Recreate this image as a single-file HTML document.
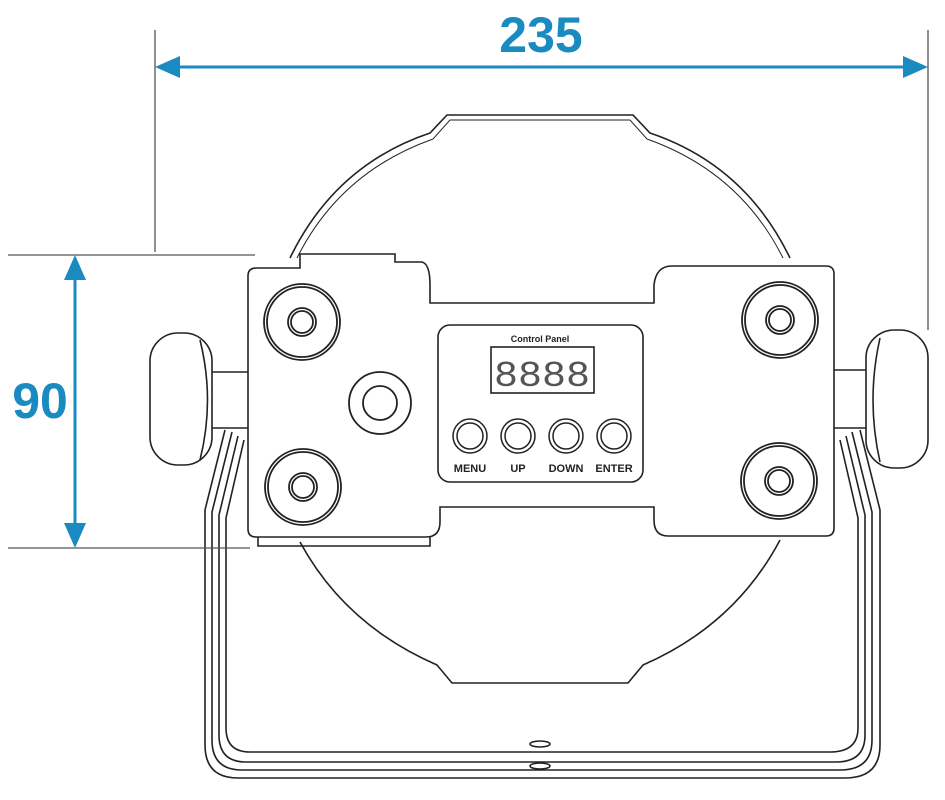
<!DOCTYPE html>
<html><head><style>body{margin:0;background:#fff}svg{display:block}</style></head>
<body>
<svg width="945" height="800" viewBox="0 0 945 800" xmlns="http://www.w3.org/2000/svg">
<g fill="none" stroke="#222" stroke-width="1.6">
<path d="M290,258 Q335,165 430,133 L447,115 L633,115 L650,133 Q745,165 790,258"/>
<path d="M297,258 Q340,172 433,139 L450,120 L630,120 L647,139 Q740,172 783,258" stroke-width="1"/>
<path d="M300,542 Q345,625 437,665 L452,683 L628,683 L643,665 Q735,625 780,540"/>
<path d="M225,430 L205,510 L205,745 Q205,778 238,778 L845,778 Q880,778 880,745 L880,510 L860,430"/>
<path d="M232,432 L212,512 L212,740 Q212,770 242,770 L840,770 Q872,770 872,740 L872,512 L852,432"/>
<path d="M238,436 L219,515 L219,735 Q219,762 246,762 L836,762 Q865,762 865,735 L865,515 L846,436"/>
<path d="M244,440 L226,518 L226,728 Q226,752 250,752 L830,752 Q858,752 858,728 L858,518 L840,440"/>
<ellipse cx="540" cy="744" rx="10" ry="3"/><ellipse cx="540" cy="766" rx="10" ry="3"/>
<path d="M205,372 L248,372 M205,428 L248,428"/>
<rect x="150" y="333" width="62" height="132" rx="28" fill="#fff"/>
<path d="M200,340 Q215,400 200,460"/>
<path d="M832,370 L870,370 M832,428 L870,428"/>
<rect x="866" y="330" width="62" height="138" rx="28" fill="#fff"/>
<path d="M880,338 Q866,400 880,462"/>
<path d="M256,268 L300,268 L300,254 L395,254 L395,262 L422,262 Q430,264 430,285 L430,303 L654,303 L654,285 Q656,266 672,266 L826,266 Q834,266 834,274 L834,528 Q834,536 826,536 L668,536 Q654,536 654,520 L654,507 L440,507 L440,522 Q440,537 426,537 L256,537 Q248,537 248,529 L248,276 Q248,268 256,268 Z" fill="#fff"/>
<path d="M258,537 L258,546 L430,546 L430,537"/>
<g stroke-width="1.8">
<circle cx="302" cy="322" r="38"/><circle cx="302" cy="322" r="35"/><circle cx="302" cy="322" r="14"/><circle cx="302" cy="322" r="11"/>
<circle cx="303" cy="487" r="38"/><circle cx="303" cy="487" r="35"/><circle cx="303" cy="487" r="14"/><circle cx="303" cy="487" r="11"/>
<circle cx="780" cy="320" r="38"/><circle cx="780" cy="320" r="35"/><circle cx="780" cy="320" r="14"/><circle cx="780" cy="320" r="11"/>
<circle cx="779" cy="481" r="38"/><circle cx="779" cy="481" r="35"/><circle cx="779" cy="481" r="14"/><circle cx="779" cy="481" r="11"/>
<circle cx="380" cy="403" r="31"/><circle cx="380" cy="403" r="17"/>
</g>
<rect x="438" y="325" width="205" height="157" rx="12"/>
<rect x="491" y="347" width="103" height="46" stroke-width="1.6"/>
<g stroke-width="1.5">
<circle cx="470" cy="436" r="17"/><circle cx="470" cy="436" r="13"/>
<circle cx="518" cy="436" r="17"/><circle cx="518" cy="436" r="13"/>
<circle cx="566" cy="436" r="17"/><circle cx="566" cy="436" r="13"/>
<circle cx="614" cy="436" r="17"/><circle cx="614" cy="436" r="13"/>
</g>
<g stroke="#555" stroke-width="1.3">
<path d="M155,30 L155,252 M928,30 L928,330 M8,255 L255,255 M8,548 L250,548"/>
</g>
</g>
<g font-family="Liberation Sans, sans-serif" fill="#222" font-weight="bold" text-anchor="middle">
<text x="540" y="342" font-size="9">Control Panel</text>
<text x="542" y="386" font-size="36" fill="#555" font-family="Liberation Mono, monospace" font-weight="normal" textLength="96" lengthAdjust="spacingAndGlyphs">8888</text>
<text x="470" y="472" font-size="11">MENU</text>
<text x="518" y="472" font-size="11">UP</text>
<text x="566" y="472" font-size="11">DOWN</text>
<text x="614" y="472" font-size="11">ENTER</text>
</g>
<g stroke="#1a8bc0" stroke-width="3" fill="#1a8bc0">
<line x1="175" y1="67" x2="905" y2="67"/>
<polygon points="155,67 180,56 180,78" stroke="none"/>
<polygon points="928,67 903,56 903,78" stroke="none"/>
<line x1="75" y1="275" x2="75" y2="528"/>
<polygon points="75,255 64,280 86,280" stroke="none"/>
<polygon points="75,548 64,523 86,523" stroke="none"/>
</g>
<g font-family="Liberation Sans, sans-serif" font-weight="bold" fill="#1a8bc0" text-anchor="middle">
<text x="541" y="52" font-size="50">235</text>
<text x="40" y="418" font-size="50">90</text>
</g>
</svg>
</body></html>
